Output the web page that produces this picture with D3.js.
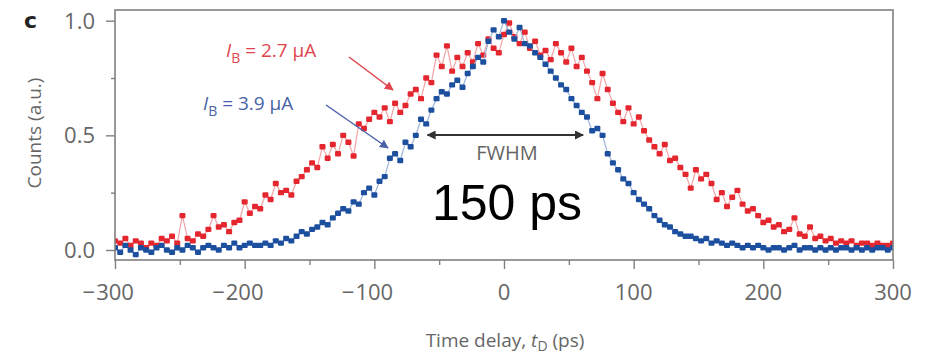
<!DOCTYPE html>
<html><head><meta charset="utf-8">
<script src="https://cdn.jsdelivr.net/npm/d3@7"></script>
<style>html,body{margin:0;padding:0;background:#fff;}svg{display:block;}</style>
</head><body>
<svg id="chart" width="925" height="357"></svg>
<script>
// ---- data ----
const timeDelay = d3.range(-300, 301, 4); // ps, sampling grid
const countsRed27 = [ // I_B = 2.7 uA
  0.04,0.03,0.05,0.02,0.04,0.03,0.01,0.03,0.02,
  0.05,0.04,0.06,0.03,0.15,0.05,0.04,0.07,
  0.06,0.09,0.15,0.10,0.11,0.08,0.12,0.13,
  0.21,0.16,0.19,0.18,
  0.24,0.22,0.29,0.25,0.26,0.24,0.30,
  0.32,0.35,0.38,0.36,0.45,0.40,
  0.46,0.42,0.50,0.47,0.41,0.55,
  0.53,0.57,0.60,0.58,0.62,0.56,0.64,0.60,0.63,
  0.68,0.70,0.66,0.75,0.73,
  0.85,0.80,0.89,
  0.78,0.84,0.80,0.86,0.82,0.90,
  0.85,0.92,0.88,0.86,0.94,
  0.99,0.93,0.90,0.95,
  0.88,0.91,0.85,0.87,0.83,
  0.90,0.86,0.82,0.88,0.80,0.84,0.78,
  0.73,0.66,0.77,0.70,0.64,
  0.60,0.56,0.62,0.55,0.58,0.52,
  0.48,0.45,0.42,0.46,0.39,0.40,0.36,
  0.33,0.27,0.35,0.31,0.33,0.29,
  0.22,0.25,0.19,0.23,0.26,0.20,
  0.17,0.18,0.15,0.12,0.13,0.10,0.11,
  0.08,0.09,0.14,0.07,0.06,0.10,0.05,0.06,0.04,
  0.05,0.03,0.04,0.03,0.04,0.02,0.03,0.03,0.02,0.03,0.02,0.02,0.03
];
const countsBlue39 = [ // I_B = 3.9 uA
  0.01,-0.01,0.02,0.00,-0.02,0.01,0.00,-0.01,0.01,0.02,0.00,-0.01,0.01,0.00,0.02,
  0.01,-0.01,0.01,0.02,0.01,0.00,0.02,0.01,0.03,0.01,0.02,0.03,0.02,
  0.02,0.03,0.02,0.04,0.03,
  0.05,0.04,0.06,0.08,0.07,0.09,
  0.10,0.12,0.11,0.14,0.16,
  0.18,0.17,0.21,0.20,
  0.25,0.27,0.24,0.30,0.32,
  0.40,0.42,0.39,
  0.47,0.45,0.50,
  0.57,0.55,0.61,
  0.66,0.69,0.68,
  0.72,0.74,0.71,0.77,
  0.80,0.84,0.82,0.91,
  0.96,0.93,1.00,
  0.95,0.92,0.97,0.90,
  0.89,0.86,0.84,0.81,
  0.78,0.75,0.72,0.70,0.66,
  0.63,0.60,0.58,
  0.52,0.53,0.50,
  0.42,0.38,0.35,0.31,
  0.29,0.25,0.22,0.20,0.18,
  0.15,0.13,0.11,0.10,0.08,0.07,0.06,
  0.06,0.05,0.04,0.05,0.03,0.04,0.03,
  0.02,0.03,0.02,0.01,0.02,0.01,0.02,0.01,0.00,0.01,0.01,0.00,0.01,0.02,0.00,
  0.01,0.01,0.00,0.01,0.00,0.01,0.00,0.01,0.01,0.00,0.01,0.00,0.01,0.00,0.01,0.01,0.00,0.01
];
const xMajorTicks = [-300,-200,-100,0,100,200,300];
const xMinorTicks = [-250,-150,-50,50,150,250];
const yMajorTicks = [0,0.5,1.0];
const yMinorTicks = [0.25,0.75];
const fwhmRange = [-59, 61]; // ps, arrow extent

// ---- layout ----
const svg = d3.select("#chart");
const L = 115, R = 893, T = 10, B = 260;
const x = d3.scaleLinear().domain([-300,300]).range([L,R]);
const y = d3.scaleLinear().domain([-0.0436,1.0466]).range([B,T]);
const axisCol = "#808080", textCol = "#666";
const font = "'Open Sans', 'DejaVu Sans', sans-serif";

const defs = svg.append("defs");
defs.append("clipPath").attr("id","plotclip").append("rect")
  .attr("x",L).attr("y",T).attr("width",R-L).attr("height",B-T);
function marker(id,color){
  defs.append("marker").attr("id",id).attr("viewBox","0 0 10 10").attr("refX",9).attr("refY",5)
    .attr("markerWidth",9).attr("markerHeight",9).attr("markerUnits","userSpaceOnUse").attr("orient","auto-start-reverse")
    .append("path").attr("d","M0,0 L10,5 L0,10 Z").attr("fill",color);
}
marker("arRed","#e0454f"); marker("arBlue","#4a62a8"); marker("arBlack","#333");

// series
const series = [
  {vals: countsRed27, line:"#f2a3a6", fill:"#e4262f"},
  {vals: countsBlue39, line:"#9db4da", fill:"#1d4f9f"}
];
const g = svg.append("g").attr("clip-path","url(#plotclip)");
series.forEach(s=>{
  const pts = timeDelay.map((t,i)=>[t,s.vals[i]]);
  g.append("path").datum(pts)
    .attr("d", d3.line().x(d=>x(d[0])).y(d=>y(d[1])))
    .attr("fill","none").attr("stroke",s.line).attr("stroke-width",1.2);
  g.selectAll(null).data(pts).join("rect")
    .attr("x",d=>x(d[0])-3).attr("y",d=>y(d[1])-2.7)
    .attr("width",6).attr("height",5.4).attr("rx",1.2)
    .attr("fill",s.fill);
});

// frame
svg.append("rect").attr("x",L).attr("y",T).attr("width",R-L).attr("height",B-T)
  .attr("fill","none").attr("stroke",axisCol).attr("stroke-width",1.6);

// x axis ticks
const xAxisMajor = d3.axisBottom(x).tickValues(xMajorTicks).tickSize(9).tickFormat("");
const xAxisMinor = d3.axisBottom(x).tickValues(xMinorTicks).tickSize(5).tickFormat("");
[xAxisMajor,xAxisMinor].forEach(ax=>{
  const a = svg.append("g").attr("transform",`translate(0,${B})`).call(ax);
  a.select(".domain").remove();
  a.selectAll("line").attr("stroke",axisCol).attr("stroke-width",1.4);
});
const yAxisMajor = d3.axisLeft(y).tickValues(yMajorTicks).tickSize(9).tickFormat("");
const yAxisMinor = d3.axisLeft(y).tickValues(yMinorTicks).tickSize(4).tickFormat("");
[yAxisMajor,yAxisMinor].forEach(ax=>{
  const a = svg.append("g").attr("transform",`translate(${L},0)`).call(ax);
  a.select(".domain").remove();
  a.selectAll("line").attr("stroke",axisCol).attr("stroke-width",1.4);
});

// x tick labels: digits centred on tick, minus sign hanging left
xMajorTicks.forEach(v=>{
  const t = svg.append("text").attr("x",x(v)).attr("y",300).attr("text-anchor","middle")
    .attr("font-family",font).attr("font-size",22).attr("fill",textCol).text(Math.abs(v));
  if (v<0){
    const w = t.node().getComputedTextLength();
    svg.append("text").attr("x",x(v)-w/2-1).attr("y",300).attr("text-anchor","end")
      .attr("font-family",font).attr("font-size",22).attr("fill",textCol).text("\u2212");
  }
});
// y tick labels
svg.selectAll(null).data(yMajorTicks).join("text")
  .attr("x",95).attr("y",d=>y(d)).attr("dy","0.36em").attr("text-anchor","end")
  .attr("font-family",font).attr("font-size",22).attr("fill",textCol)
  .text(d=>d3.format(".1f")(d));

// axis titles
const xt = svg.append("text").attr("x",505).attr("y",347).attr("text-anchor","middle")
  .attr("font-family",font).attr("font-size",19).attr("fill",textCol);
xt.append("tspan").text("Time delay, ");
xt.append("tspan").attr("font-style","italic").text("t");
xt.append("tspan").attr("font-size",14).attr("dy",4).text("D");
xt.append("tspan").attr("dy",-4).text(" (ps)");

svg.append("text").attr("transform","translate(41,133) rotate(-90)").attr("text-anchor","middle")
  .attr("font-family",font).attr("font-size",19).attr("fill",textCol).text("Counts (a.u.)");

// panel letter
svg.append("text").attr("x",24).attr("y",28).attr("font-family","'DejaVu Sans', sans-serif")
  .attr("font-weight","bold").attr("font-size",22).attr("fill","#222").text("c");

// annotations
function ibLabel(xp,yp,val,col){
  const t = svg.append("text").attr("x",xp).attr("y",yp)
    .attr("font-family",font).attr("font-size",19).attr("fill",col);
  t.append("tspan").attr("font-style","italic").text("I");
  t.append("tspan").attr("font-size",14).attr("dy",6).text("B");
  t.append("tspan").attr("dy",-6).text(" = " + val + " \u03bcA");
}
ibLabel(226,57,"2.7","#e0454f");
ibLabel(203,110,"3.9","#4a62a8");
svg.append("line").attr("x1",349).attr("y1",57).attr("x2",393).attr("y2",90)
  .attr("stroke","#e0454f").attr("stroke-width",1.5).attr("marker-end","url(#arRed)");
svg.append("line").attr("x1",326).attr("y1",105).attr("x2",388).attr("y2",148)
  .attr("stroke","#4a62a8").attr("stroke-width",1.5).attr("marker-end","url(#arBlue)");

svg.append("line").attr("x1",x(fwhmRange[0])).attr("y1",135).attr("x2",x(fwhmRange[1])).attr("y2",135)
  .attr("stroke","#333").attr("stroke-width",1.8)
  .attr("marker-start","url(#arBlack)").attr("marker-end","url(#arBlack)");
svg.append("text").attr("x",507).attr("y",160).attr("text-anchor","middle")
  .attr("font-family",font).attr("font-size",20).attr("fill",textCol).text("FWHM");
svg.append("text").attr("x",507).attr("y",220).attr("text-anchor","middle")
  .attr("font-family","'Liberation Sans', Arial, sans-serif").attr("font-size",50).attr("fill","#000").text("150 ps");
</script>
</body></html>
